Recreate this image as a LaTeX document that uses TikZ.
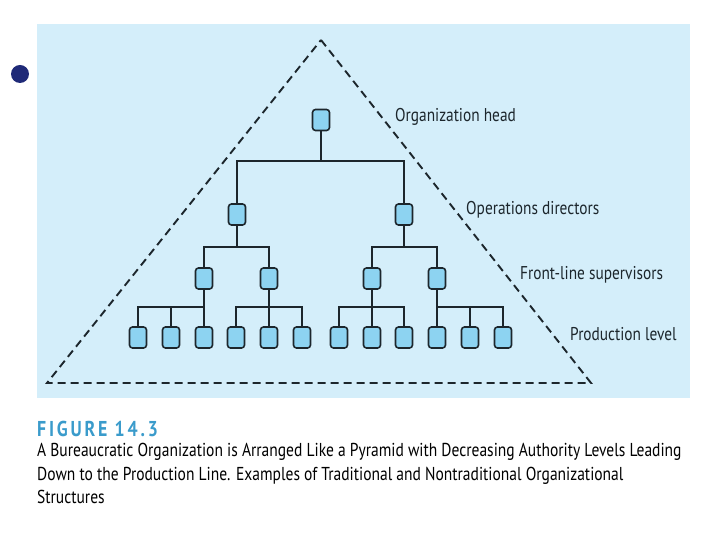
\documentclass[tikz,border=0pt]{standalone}
\usepackage{fontspec}
\setmainfont[FakeStretch=0.83]{PT Sans}
\usepackage{tikz}
\usetikzlibrary{positioning,calc}
\definecolor{Sky}{HTML}{D4EEFA}
\definecolor{BoxFill}{HTML}{8DD3F1}
\definecolor{Ink}{HTML}{1C262C}
\definecolor{Navy}{HTML}{1F2A78}
\definecolor{Caption}{HTML}{3A9BCB}
\tikzset{
  unit/.style={draw=Ink,fill=BoxFill,line width=1.6pt,rounded corners=3pt,minimum width=17pt,minimum height=21pt,inner sep=0pt},
  tree/.style={draw=Ink,line width=1.8pt},
  pyramid/.style={draw=Ink,line width=1.9pt,dash pattern=on 8pt off 5pt},
  level/.style={anchor=west,font=\fontsize{18.5}{20}\selectfont,text=Ink,inner sep=0pt}
}
\begin{document}
\begin{tikzpicture}[x=1pt,y=1pt]
  \useasboundingbox (0,0) rectangle (720,540);
  \fill[Sky] (37,142) rectangle (690,516);
  \fill[Navy] (20,466) circle (9);

  % pyramid outline
  \draw[pyramid] (321,500) -- (591,157) -- (47,157) -- cycle;

  % organization head and directors
  \node[unit] (head) at (321,420) {};
  \node[unit] (d1) at (237,325.5) {};
  \node[unit] (d2) at (404,325.5) {};
  \coordinate (hb) at (321,379);
  \draw[tree] (head) -- (hb);
  \draw[tree] (d1.north) |- (hb) -| (d2.north);

  % front-line supervisors
  \node[unit] (s1) at (204,261.5) {};
  \node[unit] (s2) at (269,261.5) {};
  \node[unit] (s3) at (372,261.5) {};
  \node[unit] (s4) at (437,261.5) {};
  \coordinate (db1) at (237,293);
  \coordinate (db2) at (404,293);
  \draw[tree] (d1) -- (db1);
  \draw[tree] (s1.north) |- (db1) -| (s2.north);
  \draw[tree] (d2) -- (db2);
  \draw[tree] (s3.north) |- (db2) -| (s4.north);

  % production level
  \foreach \px [count=\i] in {138,171,204,236,269,302,339,372,404,437,470,503}
    \node[unit] (p\i) at (\px,202.5) {};
  \coordinate (sb1) at (204,233);
  \coordinate (sb2) at (269,233);
  \coordinate (sb3) at (372,233);
  \coordinate (sb4) at (437,233);
  \draw[tree] (s1) -- (p3);
  \draw[tree] (p1.north) |- (sb1);
  \draw[tree] (p2.north) -- (p2.north|-sb1);
  \draw[tree] (s2) -- (p5);
  \draw[tree] (p4.north) |- (sb2) -| (p6.north);
  \draw[tree] (s3) -- (p8);
  \draw[tree] (p7.north) |- (sb3) -| (p9.north);
  \draw[tree] (s4) -- (p10);
  \draw[tree] (sb4) -| (p12.north);
  \draw[tree] (p11.north) -- (p11.north|-sb4);

  % level labels
  \node[level] (lhead) at (395,423) {Organization head};
  \node[level] (ldir) at (466,330) {Operations directors};
  \node[level] (lsup) at (520,265) {Front-line supervisors};
  \node[level] (lprod) at (570,206) {Production level};

  % caption
  \node[anchor=west,inner sep=0pt,text=Caption,font=\fontsize{21.5}{24}\selectfont\bfseries\addfontfeature{LetterSpace=13}] (fig) at (37,111) {FIGURE 14.3};
  \node[anchor=north west,inner sep=0pt,align=left,text=black,font=\fontsize{18.7}{23.5}\selectfont] (cap) at (37,97)
    {A Bureaucratic Organization is Arranged Like a Pyramid with Decreasing Authority Levels Leading\\
     Down to the Production Line. Examples of Traditional and Nontraditional Organizational\\
     Structures};
\end{tikzpicture}
\end{document}
